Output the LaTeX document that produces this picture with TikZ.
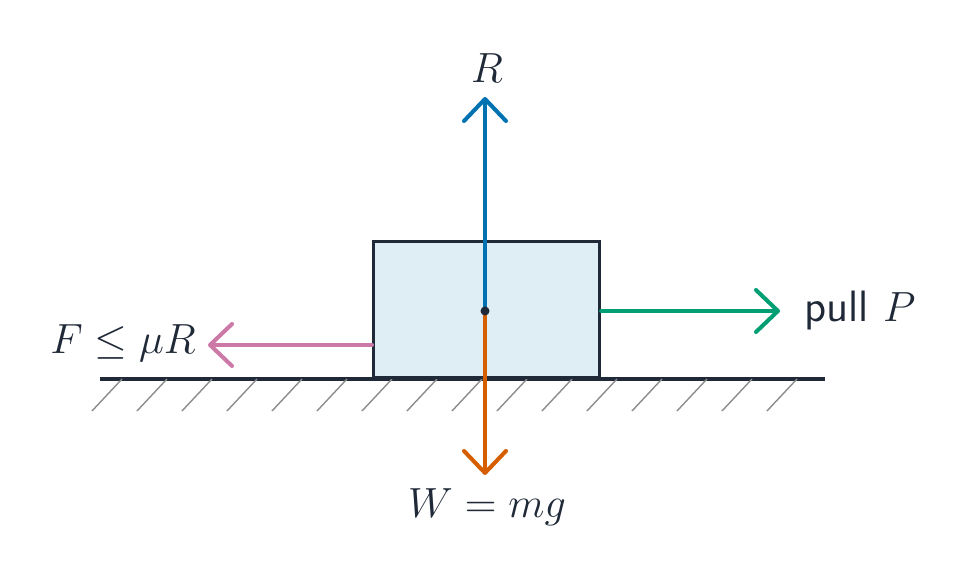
\documentclass[tikz,border=0pt]{standalone}
\usepackage{amsmath}
\usepackage{amssymb}
\usetikzlibrary{arrows.meta, positioning}
\tikzset{>={Straight Barb[length=2.2mm,width=4.2mm,line cap=round,line join=round]}}
\definecolor{ink}{HTML}{1F2937}
\definecolor{boxfill}{HTML}{DFEEF5}
\definecolor{rblue}{HTML}{0072B2}
\definecolor{worange}{HTML}{D55E00}
\definecolor{pgreen}{HTML}{009E73}
\definecolor{fpink}{HTML}{CC79A7}

\begin{document}
\begin{tikzpicture}[x=1cm, y=1cm, force/.style={line width=1.15pt, line cap=round, ->}, label/.style={text=ink, font=\fontsize{12.5}{15}\selectfont}, hatch/.style={draw=black!45, line width=0.4pt}]
    \useasboundingbox (0,0) rectangle (9.55,5.81);
    
    %Ground
    \coordinate (gl) at (1.00,2.02);
    \coordinate (gr) at (8.25,2.02);
    \draw[ink, line width=0.9pt] (gl) -- (gr);
    \foreach \x in {1.22,1.67,...,8.1}
        \draw[hatch] (\x,2.02) -- ++(-0.30,-0.32);
    
    %Nodes
    \node[draw=ink, fill=boxfill, line width=0.9pt, minimum width=2.26cm, minimum height=1.36cm, inner sep=0pt, anchor=south west](block) at (3.72,2.02){};
    \coordinate (centre) at (4.85,2.70);
    \coordinate (rtip) at (4.85,4.84);
    \coordinate (wtip) at (4.85,1.06);
    \coordinate (ptip) at (7.80,2.70);
    \coordinate (fstart) at (3.72,2.36);
    \coordinate (ftip) at (2.08,2.36);
    \node[label](rlabel) at (4.87,5.13){$R$};
    \node[label](wlabel) at (4.87,0.74){$W = mg$};
    \node[label, anchor=west](plabel) at (7.92,2.70){\sffamily pull $P$};
    \node[label](flabel) at (1.23,2.38){$F \leq \mu R$};
    
    %Lines
    \draw[force, rblue] (centre) -- (rtip);
    \draw[force, worange] (centre) -- (wtip);
    \draw[force, pgreen] (block.east |- centre) -- (ptip);
    \draw[force, fpink] (fstart) -- (ftip);
    \fill[ink] (centre) circle (0.045);
    
    \end{tikzpicture}
\end{document}
